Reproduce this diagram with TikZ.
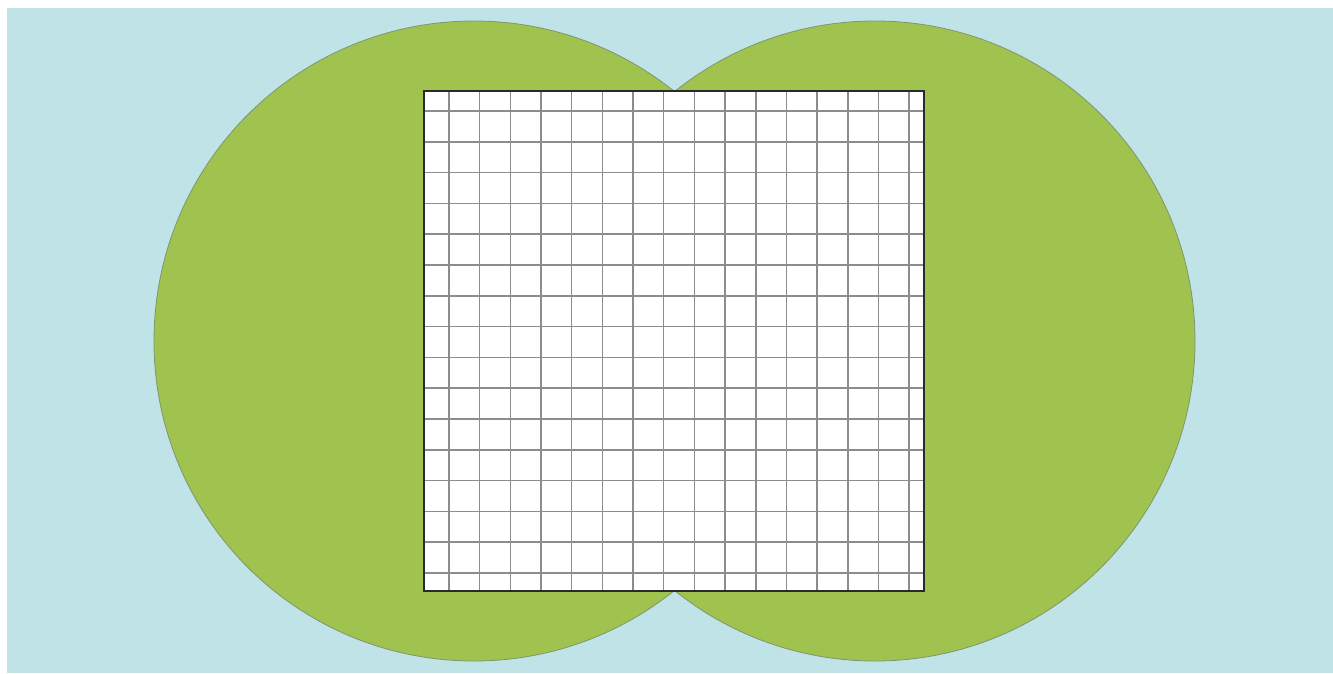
\documentclass[tikz,border=0pt]{standalone}
\definecolor{bgblue}{HTML}{C0E3E7}
\definecolor{leafgreen}{HTML}{A0C24E}
\definecolor{rimgray}{HTML}{7E9670}
\definecolor{gridgray}{HTML}{8C8C8C}
\definecolor{framegray}{HTML}{2A2A2A}
\tikzset{
  disc/.style={fill=leafgreen, draw=rimgray, line width=0.8pt},
  gridline/.style={draw=gridgray, line width=1.6pt},
  frame/.style={draw=framegray, line width=1.8pt}
}
\begin{document}
\begin{tikzpicture}[x=1pt,y=-1pt]
\useasboundingbox (0,0) rectangle (1333,673);
\fill[white] (0,0) rectangle (1333,673);
\fill[bgblue] (7,8) rectangle (1333,673);
\node[disc, circle, minimum size=640pt, inner sep=0pt] (leftdisc) at (474,341) {};
\node[disc, circle, minimum size=640pt, inner sep=0pt] (rightdisc) at (875,341) {};
\fill[white] (424,91) rectangle (924,591);
\foreach \i in {0,...,15} {
  \draw[gridline] ({449+\i*30.67},91) -- ({449+\i*30.67},591);
  \draw[gridline] (424,{111+\i*30.8}) -- (924,{111+\i*30.8});
}
\node[frame, rectangle, minimum size=500pt, inner sep=0pt] (square) at (674,341) {};
\end{tikzpicture}
\end{document}
